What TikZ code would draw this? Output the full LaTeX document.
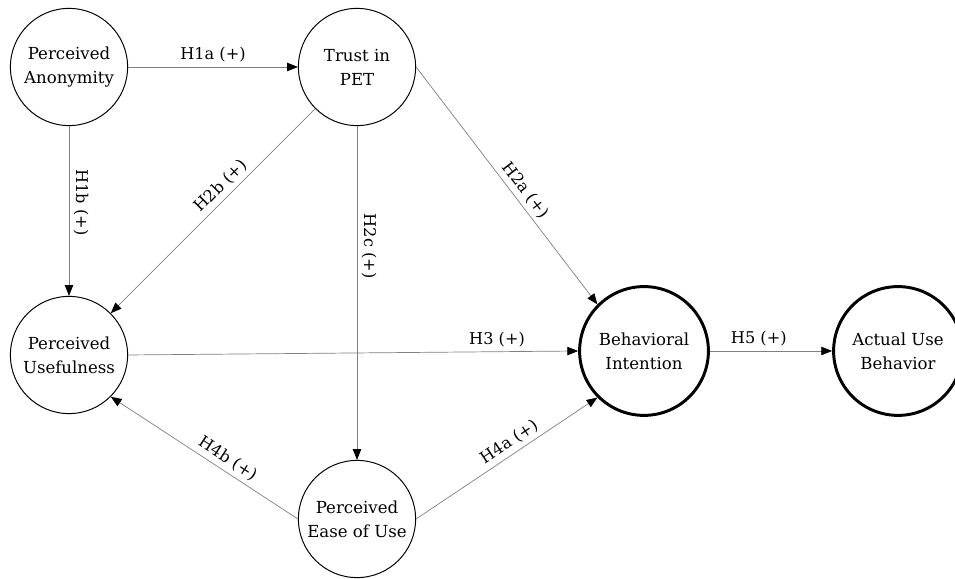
\documentclass[tikz,border=0pt]{standalone}
\usepackage{fontspec}
\setmainfont{DejaVu Serif}
\usetikzlibrary{arrows.meta}
\begin{document}
\begin{tikzpicture}[
    construct/.style={circle,draw,line width=0.7pt,minimum size=2.93cm,inner sep=0pt,align=center,font=\fontsize{11.8}{17}\selectfont},
    outcome/.style={construct,line width=2.1pt,minimum size=3.22cm},
    hyp/.style={draw=black!50,line width=0.5pt,-{Triangle[length=2.7mm,width=2.1mm,color=black]}},
    lbl/.style={sloped,above,inner sep=3pt,font=\fontsize{11.5}{14}\selectfont}
]
    \useasboundingbox (0,0) rectangle (23.875,14.475);
    % constructs
    \node[construct] (anon) at (1.725,12.8){Perceived\\Anonymity};
    \node[construct] (trust) at (8.925,12.8){Trust in\\PET};
    \node[construct] (useful) at (1.725,5.6){Perceived\\Usefulness};
    \node[construct] (ease) at (8.925,1.5){Perceived\\Ease of Use};
    \node[outcome] (intent) at (16.1,5.7){Behavioral\\Intention};
    \node[outcome] (actual) at (22.45,5.7){Actual Use\\Behavior};
    % hypotheses
    \draw[hyp] (anon.east) -- node[lbl,pos=.5]{H1a (+)} (trust.west);
    \draw[hyp] (anon.south) -- node[lbl,pos=.45]{H1b (+)} (useful.north);
    \draw[hyp] (trust.east) -- node[lbl,pos=.55]{H2a (+)} (intent.north west);
    \draw[hyp] (trust.south west) -- node[lbl,pos=.42]{H2b (+)} (useful.north east);
    \draw[hyp] (trust.south) -- node[lbl,pos=.36]{H2c (+)} (ease.north);
    \draw[hyp] (useful.east) -- node[lbl,pos=.82]{H3 (+)} (intent.west);
    \draw[hyp] (ease.east) -- node[lbl,pos=.55]{H4a (+)} (intent.south west);
    \draw[hyp] (ease.west) -- node[lbl,pos=.41]{H4b (+)} (useful.south east);
    \draw[hyp] (intent.east) -- node[lbl,pos=.4]{H5 (+)} (actual.west);
\end{tikzpicture}
\end{document}
